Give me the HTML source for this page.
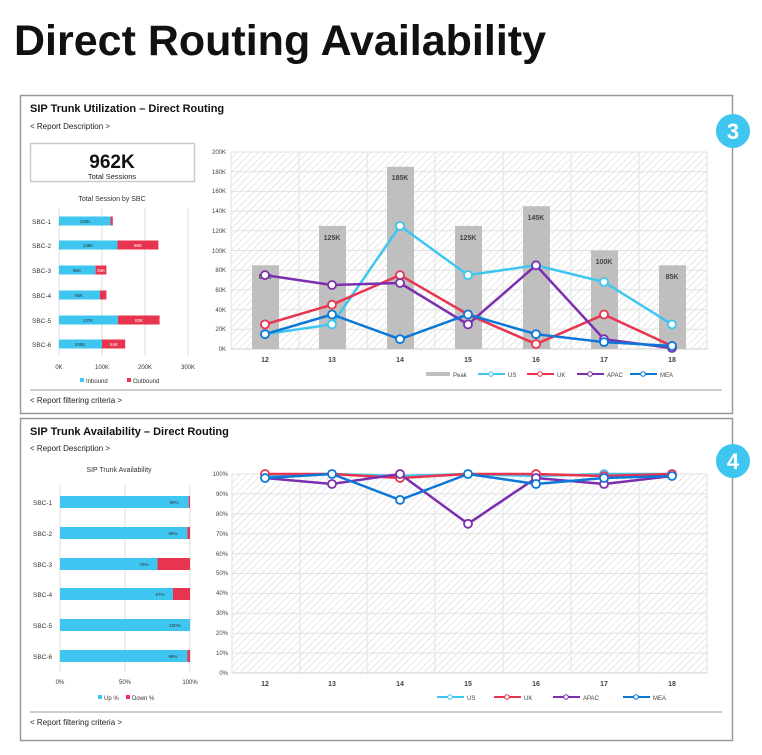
<!DOCTYPE html>
<html><head><meta charset="utf-8"><style>
body{margin:0;background:#fff;font-family:"Liberation Sans",sans-serif}
</style></head><body>
<svg width="762" height="750" xmlns="http://www.w3.org/2000/svg" font-family="Liberation Sans, sans-serif">
<defs>
<pattern id="h" patternUnits="userSpaceOnUse" width="5" height="5" patternTransform="rotate(45)">
<rect width="5" height="5" fill="#fff"/><line x1="0" y1="0" x2="0" y2="5" stroke="#d8d8d8" stroke-width="1.2"/>
</pattern>
</defs>
<text x="14" y="55" font-size="43" font-weight="bold" fill="#111">Direct Routing Availability</text>

<!-- Panel 1 -->
<rect x="20.5" y="95.5" width="712" height="318" fill="none" stroke="#999" stroke-width="1.5"/>
<text x="30" y="112" font-size="11" font-weight="bold" fill="#111">SIP Trunk Utilization – Direct Routing</text>
<text x="30" y="129" font-size="8" fill="#222">&lt; Report Description &gt;</text>
<rect x="30.5" y="143.5" width="164" height="38" fill="#fff" stroke="#ccc" stroke-width="1.5"/>
<text x="112" y="168" font-size="19" font-weight="bold" text-anchor="middle" fill="#111">962K</text>
<text x="112" y="179" font-size="7.5" text-anchor="middle" fill="#222">Total Sessions</text>
<text x="112" y="201" font-size="7" text-anchor="middle" fill="#333">Total Session by SBC</text>
<g stroke="#ddd" stroke-width="1"><line x1="59" y1="208" x2="59" y2="356"/><line x1="102" y1="208" x2="102" y2="356"/><line x1="145" y1="208" x2="145" y2="356"/><line x1="188" y1="208" x2="188" y2="356"/></g>
<g font-size="6.5" fill="#333">
<text x="32" y="224">SBC-1</text><text x="32" y="248">SBC-2</text><text x="32" y="273">SBC-3</text><text x="32" y="298">SBC-4</text><text x="32" y="323">SBC-5</text><text x="32" y="347">SBC-6</text>
</g>
<g>
<rect x="59" y="216.5" width="51.6" height="9" fill="#3ec6f0"/><rect x="110.6" y="216.5" width="2.2" height="9" fill="#e8344e"/>
<rect x="59" y="240.5" width="58.5" height="9" fill="#3ec6f0"/><rect x="117.5" y="240.5" width="40.9" height="9" fill="#e8344e"/>
<rect x="59" y="265.5" width="36.6" height="9" fill="#3ec6f0"/><rect x="95.6" y="265.5" width="10.8" height="9" fill="#e8344e"/>
<rect x="59" y="290.5" width="40.9" height="9" fill="#3ec6f0"/><rect x="99.9" y="290.5" width="6.5" height="9" fill="#e8344e"/>
<rect x="59" y="315.5" width="58.9" height="9" fill="#3ec6f0"/><rect x="117.9" y="315.5" width="41.7" height="9" fill="#e8344e"/>
<rect x="59" y="339.5" width="43" height="9" fill="#3ec6f0"/><rect x="102" y="339.5" width="23.2" height="9" fill="#e8344e"/>
</g>
<g font-size="4.5" fill="#333" text-anchor="middle">
<text x="85" y="223">120K</text><text x="88" y="247">136K</text><text x="138" y="247" fill="#fff">95K</text>
<text x="77" y="272">85K</text><text x="101" y="272" fill="#fff">25K</text><text x="79" y="297">95K</text>
<text x="88" y="322">137K</text><text x="139" y="322" fill="#fff">93K</text><text x="80" y="346">100K</text><text x="114" y="346" fill="#fff">54K</text>
</g>
<g font-size="6" fill="#333" text-anchor="middle"><text x="59" y="369">0K</text><text x="102" y="369">100K</text><text x="145" y="369">200K</text><text x="188" y="369">300K</text></g>
<rect x="80" y="378" width="4" height="4" fill="#3ec6f0"/><text x="86" y="383" font-size="6" fill="#333">Inbound</text>
<rect x="127" y="378" width="4" height="4" fill="#e8344e"/><text x="133" y="383" font-size="6" fill="#333">Outbound</text>
<line x1="30" y1="390" x2="722" y2="390" stroke="#999" stroke-width="1"/>
<text x="30" y="403" font-size="8" fill="#222">&lt; Report filtering criteria &gt;</text>

<!-- Chart 1 -->
<rect x="231" y="152" width="476" height="197" fill="url(#h)"/>
<g stroke="#e2e2e2" stroke-width="1">
<line x1="231" y1="152" x2="707" y2="152"/><line x1="231" y1="171.7" x2="707" y2="171.7"/><line x1="231" y1="191.4" x2="707" y2="191.4"/><line x1="231" y1="211.1" x2="707" y2="211.1"/><line x1="231" y1="230.8" x2="707" y2="230.8"/><line x1="231" y1="250.5" x2="707" y2="250.5"/><line x1="231" y1="270.2" x2="707" y2="270.2"/><line x1="231" y1="289.9" x2="707" y2="289.9"/><line x1="231" y1="309.6" x2="707" y2="309.6"/><line x1="231" y1="329.3" x2="707" y2="329.3"/>
<line x1="231" y1="152" x2="231" y2="349"/><line x1="299" y1="152" x2="299" y2="349"/><line x1="367" y1="152" x2="367" y2="349"/><line x1="435" y1="152" x2="435" y2="349"/><line x1="503" y1="152" x2="503" y2="349"/><line x1="571" y1="152" x2="571" y2="349"/><line x1="639" y1="152" x2="639" y2="349"/><line x1="707" y1="152" x2="707" y2="349"/>
</g>
<line x1="231" y1="349" x2="707" y2="349" stroke="#ccc"/>
<g font-size="6" fill="#444" text-anchor="end">
<text x="226" y="154">200K</text><text x="226" y="174">180K</text><text x="226" y="193">160K</text><text x="226" y="213">140K</text><text x="226" y="233">120K</text><text x="226" y="253">100K</text><text x="226" y="272">80K</text><text x="226" y="292">60K</text><text x="226" y="312">40K</text><text x="226" y="331">20K</text><text x="226" y="351">0K</text>
</g>
<g fill="#bfbfbf">
<rect x="252" y="265.3" width="27" height="83.7"/><rect x="319" y="225.9" width="27" height="123.1"/><rect x="387" y="166.8" width="27" height="182.2"/><rect x="455" y="225.9" width="27" height="123.1"/><rect x="523" y="206.2" width="27" height="142.8"/><rect x="591" y="250.5" width="27" height="98.5"/><rect x="659" y="265.3" width="27" height="83.7"/>
</g>
<g font-size="7" font-weight="bold" fill="#444" text-anchor="middle">
<text x="265" y="279">85K</text><text x="332" y="240">125K</text><text x="400" y="180">185K</text><text x="468" y="240">125K</text><text x="536" y="220">145K</text><text x="604" y="264">100K</text><text x="672" y="279">85K</text>
</g>
<g fill="none" stroke-width="2.5">
<polyline stroke="#3ec6f0" points="265,334.2 332,324.4 400,225.9 468,275.1 536,265.3 604,282 672,324.4"/>
<polyline stroke="#e8344e" points="265,324.4 332,304.7 400,275.1 468,314.5 536,344.1 604,314.5 672,346"/>
<polyline stroke="#7b2fae" points="265,275.1 332,285 400,283 468,324.4 536,265.3 604,339.2 672,348"/>
<polyline stroke="#0b78d8" points="265,334.2 332,314.5 400,339.2 468,314.5 536,334.2 604,342.1 672,346"/>
</g>
<g fill="#fff" stroke-width="1.8">
<g stroke="#3ec6f0"><circle cx="265" cy="334.2" r="4"/><circle cx="332" cy="324.4" r="4"/><circle cx="400" cy="225.9" r="4"/><circle cx="468" cy="275.1" r="4"/><circle cx="536" cy="265.3" r="4"/><circle cx="604" cy="282" r="4"/><circle cx="672" cy="324.4" r="4"/></g>
<g stroke="#e8344e"><circle cx="265" cy="324.4" r="4"/><circle cx="332" cy="304.7" r="4"/><circle cx="400" cy="275.1" r="4"/><circle cx="468" cy="314.5" r="4"/><circle cx="536" cy="344.1" r="4"/><circle cx="604" cy="314.5" r="4"/><circle cx="672" cy="346" r="4"/></g>
<g stroke="#7b2fae"><circle cx="265" cy="275.1" r="4"/><circle cx="332" cy="285" r="4"/><circle cx="400" cy="283" r="4"/><circle cx="468" cy="324.4" r="4"/><circle cx="536" cy="265.3" r="4"/><circle cx="604" cy="339.2" r="4"/><circle cx="672" cy="348" r="4"/></g>
<g stroke="#0b78d8"><circle cx="265" cy="334.2" r="4"/><circle cx="332" cy="314.5" r="4"/><circle cx="400" cy="339.2" r="4"/><circle cx="468" cy="314.5" r="4"/><circle cx="536" cy="334.2" r="4"/><circle cx="604" cy="342.1" r="4"/><circle cx="672" cy="346" r="4"/></g>
</g>
<g font-size="7" font-weight="bold" fill="#444" text-anchor="middle">
<text x="265" y="362">12</text><text x="332" y="362">13</text><text x="400" y="362">14</text><text x="468" y="362">15</text><text x="536" y="362">16</text><text x="604" y="362">17</text><text x="672" y="362">18</text>
</g>
<g font-size="6" fill="#444">
<rect x="426" y="372" width="24" height="4" fill="#bfbfbf"/><text x="453" y="377">Peak</text>
<line x1="478" y1="374" x2="505" y2="374" stroke="#3ec6f0" stroke-width="2"/><circle cx="491" cy="374" r="2.3" fill="#fff" stroke="#3ec6f0"/><text x="508" y="377">US</text>
<line x1="527" y1="374" x2="554" y2="374" stroke="#e8344e" stroke-width="2"/><circle cx="540" cy="374" r="2.3" fill="#fff" stroke="#e8344e"/><text x="557" y="377">UK</text>
<line x1="577" y1="374" x2="604" y2="374" stroke="#7b2fae" stroke-width="2"/><circle cx="590" cy="374" r="2.3" fill="#fff" stroke="#7b2fae"/><text x="607" y="377">APAC</text>
<line x1="630" y1="374" x2="657" y2="374" stroke="#0b78d8" stroke-width="2"/><circle cx="643" cy="374" r="2.3" fill="#fff" stroke="#0b78d8"/><text x="660" y="377">MEA</text>
</g>
<circle cx="733" cy="131" r="17" fill="#3ec6f0"/><text x="733" y="139" font-size="22" font-weight="bold" fill="#fff" text-anchor="middle">3</text>

<!-- Panel 2 -->
<rect x="20.5" y="418.5" width="712" height="322" fill="none" stroke="#999" stroke-width="1.5"/>
<text x="30" y="435" font-size="11" font-weight="bold" fill="#111">SIP Trunk Availability – Direct Routing</text>
<text x="30" y="451" font-size="8" fill="#222">&lt; Report Description &gt;</text>
<text x="119" y="472" font-size="7" text-anchor="middle" fill="#333">SIP Trunk Availability</text>
<g stroke="#ddd"><line x1="60" y1="485" x2="60" y2="672"/><line x1="125" y1="485" x2="125" y2="672"/><line x1="190" y1="485" x2="190" y2="672"/></g>
<g font-size="6.5" fill="#333">
<text x="33" y="505">SBC-1</text><text x="33" y="536">SBC-2</text><text x="33" y="567">SBC-3</text><text x="33" y="597">SBC-4</text><text x="33" y="628">SBC-5</text><text x="33" y="659">SBC-6</text>
</g>
<g fill="#3ec6f0">
<rect x="60" y="496" width="128.7" height="12"/><rect x="60" y="527" width="127.4" height="12"/><rect x="60" y="558" width="97.5" height="12"/><rect x="60" y="588" width="113" height="12"/><rect x="60" y="619" width="130" height="12"/><rect x="60" y="650" width="127.4" height="12"/>
</g>
<g fill="#e8344e">
<rect x="188.7" y="496" width="1.3" height="12"/><rect x="187.4" y="527" width="2.6" height="12"/><rect x="157.5" y="558" width="32.5" height="12"/><rect x="173" y="588" width="17" height="12"/><rect x="187.4" y="650" width="2.6" height="12"/>
</g>
<g font-size="4.5" fill="#333" text-anchor="middle">
<text x="174" y="504">99%</text><text x="173" y="535">98%</text><text x="144" y="566">75%</text><text x="160" y="596">87%</text><text x="175" y="627">100%</text><text x="173" y="658">98%</text>
</g>
<g font-size="6" fill="#333" text-anchor="middle"><text x="60" y="684">0%</text><text x="125" y="684">50%</text><text x="190" y="684">100%</text></g>
<rect x="98" y="695" width="4" height="4" fill="#3ec6f0"/><text x="104" y="700" font-size="6" fill="#333">Up %</text>
<rect x="126" y="695" width="4" height="4" fill="#e8344e"/><text x="132" y="700" font-size="6" fill="#333">Down %</text>
<line x1="30" y1="712" x2="722" y2="712" stroke="#999"/>
<text x="30" y="725" font-size="8" fill="#222">&lt; Report filtering criteria &gt;</text>

<!-- Chart 2 -->
<rect x="232" y="474" width="475" height="199" fill="url(#h)"/>
<g stroke="#e2e2e2">
<line x1="232" y1="474" x2="707" y2="474"/><line x1="232" y1="493.9" x2="707" y2="493.9"/><line x1="232" y1="513.8" x2="707" y2="513.8"/><line x1="232" y1="533.7" x2="707" y2="533.7"/><line x1="232" y1="553.6" x2="707" y2="553.6"/><line x1="232" y1="573.5" x2="707" y2="573.5"/><line x1="232" y1="593.4" x2="707" y2="593.4"/><line x1="232" y1="613.3" x2="707" y2="613.3"/><line x1="232" y1="633.2" x2="707" y2="633.2"/><line x1="232" y1="653.1" x2="707" y2="653.1"/>
<line x1="232" y1="474" x2="232" y2="673"/><line x1="300" y1="474" x2="300" y2="673"/><line x1="367" y1="474" x2="367" y2="673"/><line x1="435" y1="474" x2="435" y2="673"/><line x1="503" y1="474" x2="503" y2="673"/><line x1="571" y1="474" x2="571" y2="673"/><line x1="639" y1="474" x2="639" y2="673"/><line x1="707" y1="474" x2="707" y2="673"/>
</g>
<line x1="232" y1="673" x2="707" y2="673" stroke="#ccc"/>
<g font-size="6" fill="#444" text-anchor="end">
<text x="228" y="476">100%</text><text x="228" y="496">90%</text><text x="228" y="516">80%</text><text x="228" y="536">70%</text><text x="228" y="556">60%</text><text x="228" y="575">50%</text><text x="228" y="595">40%</text><text x="228" y="615">30%</text><text x="228" y="635">20%</text><text x="228" y="655">10%</text><text x="228" y="675">0%</text>
</g>
<g fill="none" stroke-width="2.5">
<polyline stroke="#3ec6f0" points="265,476 332,474 400,476 468,474 536,476 604,474 672,474"/>
<polyline stroke="#e8344e" points="265,474 332,474 400,478 468,474 536,474 604,476 672,474"/>
<polyline stroke="#7b2fae" points="265,478 332,484 400,474 468,523.8 536,478 604,484 672,476"/>
<polyline stroke="#0b78d8" points="265,478 332,474 400,499.9 468,474 536,484 604,478 672,476"/>
</g>
<g fill="#fff" stroke-width="1.8">
<g stroke="#3ec6f0"><circle cx="604" cy="474" r="4"/></g>
<g stroke="#e8344e"><circle cx="265" cy="474" r="4"/><circle cx="400" cy="478" r="4"/><circle cx="536" cy="474" r="4"/><circle cx="604" cy="476" r="4"/><circle cx="672" cy="474" r="4"/></g>
<g stroke="#7b2fae"><circle cx="332" cy="484" r="4"/><circle cx="400" cy="474" r="4"/><circle cx="468" cy="523.8" r="4"/><circle cx="536" cy="478" r="4"/><circle cx="604" cy="484" r="4"/></g>
<g stroke="#0b78d8"><circle cx="265" cy="478" r="4"/><circle cx="332" cy="474" r="4"/><circle cx="400" cy="499.9" r="4"/><circle cx="468" cy="474" r="4"/><circle cx="536" cy="484" r="4"/><circle cx="604" cy="478" r="4"/><circle cx="672" cy="476" r="4"/></g>
</g>
<g font-size="7" font-weight="bold" fill="#444" text-anchor="middle">
<text x="265" y="686">12</text><text x="332" y="686">13</text><text x="400" y="686">14</text><text x="468" y="686">15</text><text x="536" y="686">16</text><text x="604" y="686">17</text><text x="672" y="686">18</text>
</g>
<g font-size="6" fill="#444">
<line x1="437" y1="697" x2="464" y2="697" stroke="#3ec6f0" stroke-width="2"/><circle cx="450" cy="697" r="2.3" fill="#fff" stroke="#3ec6f0"/><text x="467" y="700">US</text>
<line x1="494" y1="697" x2="521" y2="697" stroke="#e8344e" stroke-width="2"/><circle cx="507" cy="697" r="2.3" fill="#fff" stroke="#e8344e"/><text x="524" y="700">UK</text>
<line x1="553" y1="697" x2="580" y2="697" stroke="#7b2fae" stroke-width="2"/><circle cx="566" cy="697" r="2.3" fill="#fff" stroke="#7b2fae"/><text x="583" y="700">APAC</text>
<line x1="623" y1="697" x2="650" y2="697" stroke="#0b78d8" stroke-width="2"/><circle cx="636" cy="697" r="2.3" fill="#fff" stroke="#0b78d8"/><text x="653" y="700">MEA</text>
</g>
<circle cx="733" cy="461" r="17" fill="#3ec6f0"/><text x="733" y="469" font-size="22" font-weight="bold" fill="#fff" text-anchor="middle">4</text>
</svg>
</body></html>
